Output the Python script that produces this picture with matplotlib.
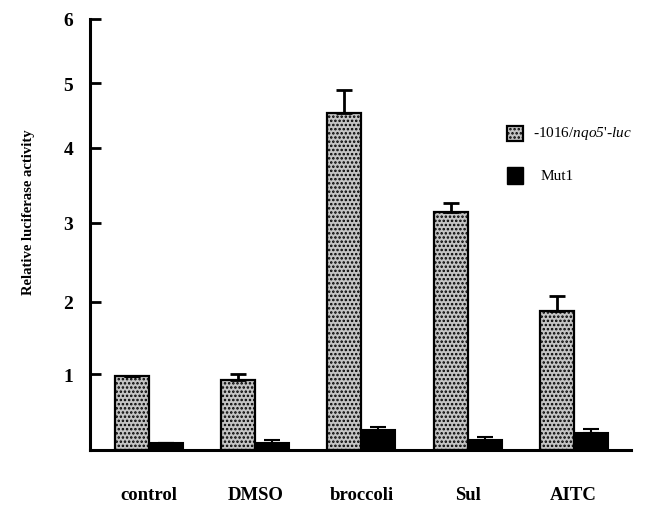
import numpy as np
import matplotlib
matplotlib.use("Agg")
import matplotlib.pyplot as plt
from matplotlib.patches import Rectangle

plt.rcParams["font.family"] = ["Liberation Serif", "DejaVu Serif"]
plt.rcParams["mathtext.fontset"] = "custom"
plt.rcParams["mathtext.rm"] = "Liberation Serif"
plt.rcParams["mathtext.sf"] = "Liberation Serif:italic"
plt.rcParams["hatch.linewidth"] = 1.2

categories = ["control", "DMSO", "broccoli", "Sul", "AITC"]
wt_values = [0.97, 0.92, 4.54, 3.15, 1.88]
wt_errors = [0.0, 0.08, 0.36, 0.12, 0.20]
mut_values = [0.09, 0.09, 0.26, 0.13, 0.23]
mut_errors = [0.0, 0.04, 0.04, 0.04, 0.04]
yticks = [1, 2, 3, 4, 5, 6]
wt_label = "-1016/$\\mathsf{nqo5}$'-$\\mathsf{luc}$"
mut_label = "Mut1"

# the scanned axis is not evenly spaced, follow the printed tick positions
tick_vals = [0, 1, 2, 3, 4, 5, 6]
tick_frac = [0, 0.1763, 0.3434, 0.5267, 0.7007, 0.8515, 1.0]

def fwd(v):
    return np.interp(v, tick_vals, tick_frac)

def inv(f):
    return np.interp(f, tick_frac, tick_vals)

W, H = 661, 506
fig = plt.figure(figsize=(W / 100, H / 100), dpi=100)
ax = fig.add_axes([90 / W, 1 - 451 / H, 541 / W, 431 / H])

x = np.arange(len(categories))
w = 0.32
wt_style = dict(facecolor="#c4c4c4", edgecolor="black", hatch="....", linewidth=1.6)
ax.bar(x - w / 2, wt_values, w, **wt_style,
       yerr=[np.zeros(5), wt_errors], capsize=6,
       error_kw=dict(elinewidth=2, capthick=2, ecolor="black"))
ax.bar(x + w / 2, mut_values, w, facecolor="black", edgecolor="black",
       linewidth=1.5,
       yerr=[np.zeros(5), mut_errors], capsize=6,
       error_kw=dict(elinewidth=1.5, capthick=1.5, ecolor="black"))

ax.set_yscale("function", functions=(fwd, inv))
ax.set_ylim(0, 6)
ax.set_xlim(-0.557, 4.54)
ax.set_yticks(yticks)
ax.set_yticklabels([str(t) for t in yticks], fontsize=14, fontweight="bold")
ax.yaxis.set_minor_locator(plt.NullLocator())
ax.set_xticks(x)
ax.set_xticklabels(categories, fontsize=13.5, fontweight="bold")
ax.tick_params(axis="x", length=0, pad=26)
ax.tick_params(axis="y", direction="in", length=8, width=2, pad=12)

for side in ["top", "right"]:
    ax.spines[side].set_visible(False)
ax.spines["left"].set_linewidth(2.2)
ax.spines["bottom"].set_linewidth(2.2)

fig.text(29 / W, 1 - 212 / H, "Relative luciferase activity", rotation=90,
         ha="center", va="center", fontsize=10.5, fontweight="bold")

# legend, drawn by hand (the Mut1 text sits a bit further right in the original)
fig.add_artist(Rectangle((507 / W, 1 - 142 / H), 16 / W, 15 / H,
                         transform=fig.transFigure, **wt_style))
fig.text(533 / W, 1 - 134 / H, wt_label, fontsize=11, va="center")
fig.add_artist(Rectangle((507 / W, 1 - 185 / H), 16 / W, 17 / H,
                         transform=fig.transFigure, facecolor="black",
                         edgecolor="black"))
fig.text(541 / W, 1 - 177 / H, mut_label, fontsize=11, va="center")

plt.savefig("out.png", dpi=100)
